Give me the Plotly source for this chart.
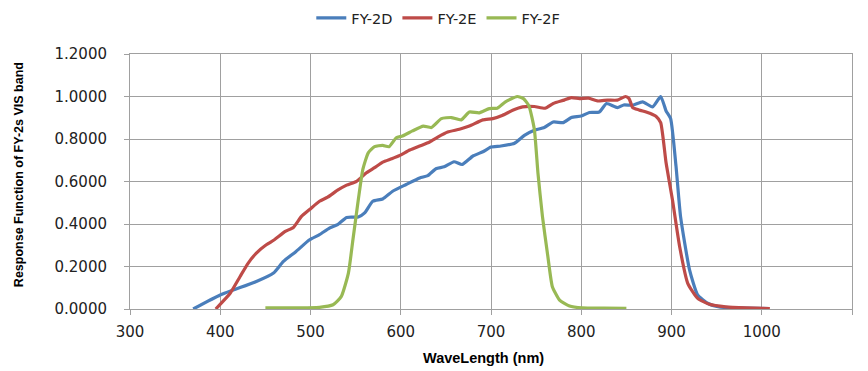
import plotly.graph_objects as go

# FY-2D
wl_2d = [370, 400, 440, 459, 470, 484, 499, 510, 521, 530, 540, 553, 560, 569, 580, 591, 606, 621,
         630, 639, 648, 659, 668, 680, 691, 700, 711, 726, 737, 748, 759, 769, 780, 789, 800, 809,
         820, 828, 840, 847, 857, 868, 879, 888, 894, 899, 905, 910, 920, 929, 940, 953, 975, 1008]
rf_2d = [0.000, 0.066, 0.129, 0.169, 0.224, 0.271, 0.326, 0.350, 0.381, 0.397, 0.431, 0.433, 0.452,
         0.507, 0.518, 0.554, 0.586, 0.617, 0.628, 0.660, 0.669, 0.693, 0.680, 0.720, 0.740, 0.762,
         0.767, 0.780, 0.817, 0.841, 0.854, 0.880, 0.877, 0.901, 0.908, 0.925, 0.927, 0.967, 0.948,
         0.960, 0.959, 0.975, 0.951, 1.000, 0.932, 0.896, 0.672, 0.436, 0.184, 0.066, 0.027, 0.010,
         0.005, 0.002]

# FY-2E
wl_2e = [395, 411, 422, 431, 440, 451, 460, 472, 481, 490, 499, 510, 519, 530, 540, 551, 562, 571,
         580, 590, 599, 610, 621, 632, 641, 652, 665, 676, 691, 702, 713, 724, 735, 748, 760, 769,
         781, 789, 798, 808, 818, 829, 840, 849, 853, 857, 864, 876, 883, 888, 894, 901, 909, 918,
         929, 942, 960, 983, 1009]
rf_2e = [0.000, 0.074, 0.153, 0.216, 0.263, 0.302, 0.326, 0.365, 0.384, 0.436, 0.468, 0.507, 0.526,
         0.559, 0.583, 0.601, 0.641, 0.665, 0.691, 0.707, 0.723, 0.748, 0.767, 0.786, 0.809, 0.833,
         0.846, 0.861, 0.890, 0.896, 0.912, 0.935, 0.951, 0.953, 0.945, 0.967, 0.983, 0.995, 0.990,
         0.992, 0.979, 0.983, 0.983, 1.000, 0.990, 0.948, 0.937, 0.921, 0.906, 0.877, 0.688, 0.515,
         0.294, 0.121, 0.050, 0.022, 0.010, 0.005, 0.002]

# FY-2F
wl_2f = [450, 480, 510, 525, 534, 542, 547, 553, 558, 564, 571, 580, 587, 595, 602, 613, 625, 634,
         645, 656, 667, 676, 687, 698, 707, 716, 729, 736, 742, 748, 752, 757, 763, 768, 776, 787,
         801, 825, 850]
rf_2f = [0.005, 0.005, 0.008, 0.020, 0.058, 0.169, 0.326, 0.515, 0.657, 0.735, 0.764, 0.770, 0.764,
         0.806, 0.814, 0.838, 0.861, 0.854, 0.896, 0.901, 0.890, 0.927, 0.923, 0.943, 0.945, 0.975,
         1.000, 0.990, 0.956, 0.846, 0.641, 0.436, 0.247, 0.105, 0.042, 0.014, 0.005, 0.004, 0.003]

series = [("FY-2D", wl_2d, rf_2d, "#4A7EBB"),
          ("FY-2E", wl_2e, rf_2e, "#BE4B48"),
          ("FY-2F", wl_2f, rf_2f, "#98B954")]

fig = go.Figure()
for name, x, y, c in series:
    fig.add_trace(go.Scatter(x=x, y=y, name=name, mode="lines",
                             line=dict(color=c, width=3.2, shape="spline", smoothing=0.5)))

tick_font = "DejaVu Sans, Liberation Sans, sans-serif"
title_font = "Liberation Sans, Arial, sans-serif"
# page body has an 8px margin; figure sized so the plot area lands where the reference has it
fig.update_layout(
    width=860, height=363,
    margin=dict(l=122, r=16, t=46, b=62, autoexpand=False),
    paper_bgcolor="white", plot_bgcolor="white",
    font=dict(family=tick_font, size=15, color="#222"),
    legend=dict(orientation="h", x=0.427, xanchor="center", y=1.141, yanchor="middle",
                font=dict(size=14.5, family=tick_font), itemwidth=30, tracegroupgap=0),
    showlegend=True,
)
fig.update_xaxes(range=[300, 1100], dtick=100, tick0=300, showgrid=True,
                 gridcolor="#a0a0a0", gridwidth=1, showline=True, linecolor="#a0a0a0",
                 ticks="outside", ticklen=5, tickcolor="#a0a0a0", zeroline=False,
                 mirror=True, automargin=False, ticklabelstandoff=4)
fig.update_yaxes(range=[0, 1.2], dtick=0.2, tickformat=".4f", showgrid=True,
                 gridcolor="#a0a0a0", gridwidth=1, showline=True, linecolor="#a0a0a0",
                 ticks="outside", ticklen=5, tickcolor="#a0a0a0", zeroline=False,
                 mirror=True, automargin=False, ticklabelstandoff=14)

fig.add_annotation(text="<b>WaveLength (nm)</b>", xref="paper", yref="paper",
                   x=0.49, y=-0.192, xanchor="center", yanchor="middle", showarrow=False,
                   font=dict(size=14.5, family=title_font, color="#000"))
fig.add_annotation(text="<b>Response Function of FY-2s VIS band</b>", xref="paper", yref="paper",
                   x=-(122 - 11) / 722, y=0.525, xanchor="center", yanchor="middle",
                   textangle=-90, showarrow=False,
                   font=dict(size=12.5, family=title_font, color="#000"))

fig.write_html("out.html")
